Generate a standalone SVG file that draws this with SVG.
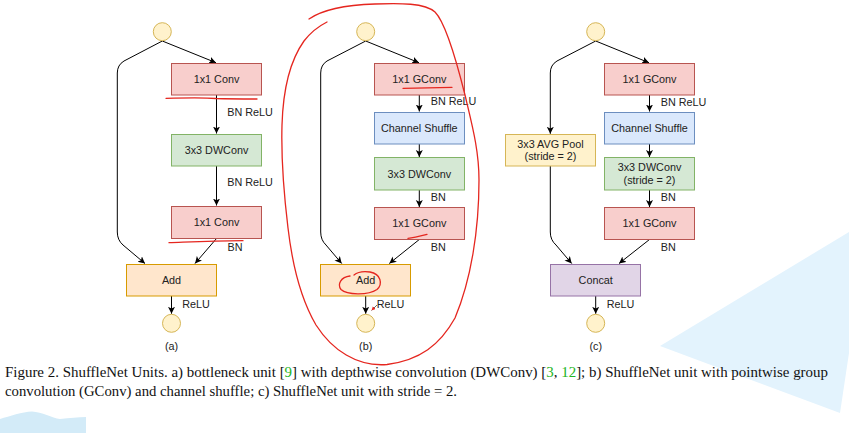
<svg xmlns="http://www.w3.org/2000/svg" width="849" height="433" viewBox="0 0 849 433">
  <style>
    .box { stroke-width: 1; }
    .pink { fill: #f8cecc; stroke: #b85450; }
    .green { fill: #d5e8d4; stroke: #82b366; }
    .blue { fill: #dae8fc; stroke: #6c8ebf; }
    .orange { fill: #ffe6cc; stroke: #d79b00; }
    .yellow { fill: #fff2cc; stroke: #d6b656; }
    .purple { fill: #e1d5e7; stroke: #9673a6; }
    .port { fill: #fff2cc; stroke: #d6b656; stroke-width: 1; }
    .t { font-family: "Liberation Sans", Arial, sans-serif; font-size: 10.8px; fill: #222; }
    .c { text-anchor: middle; }
    .edge { fill: none; stroke: #000; stroke-width: 1; marker-end: url(#arrow); }
    .ink { fill: none; stroke: #e5261f; stroke-width: 1.3; stroke-linecap: round; stroke-linejoin: round; }
    .cap { font-family: "Liberation Serif", "Times New Roman", serif; font-size: 15px; fill: #111; }
    .ref { fill: #22b422; }
  </style>
  <defs>
    <marker id="arrow" markerUnits="userSpaceOnUse" markerWidth="8" markerHeight="8" refX="7" refY="3.5" orient="auto">
      <path d="M0,0 L7,3.5 L0,7 L1.8,3.5 Z" fill="#000"/>
    </marker>
    <marker id="redhead" markerUnits="userSpaceOnUse" markerWidth="6" markerHeight="6" refX="4" refY="2" orient="auto">
      <path d="M0,0 L4,2 L0,4 Z" fill="#e5261f"/>
    </marker>
  </defs>

  <rect width="849" height="433" fill="#ffffff"/>

  <!-- light blue background shapes -->
  <polygon points="660,346 849,232 849,353 840,413" fill="#e3f3fd"/>
  <path d="M0,419 C10,416 22,412 32,411.5 C42,412 52,418 60,419 C70,418 78,417 86,417 L86,433 L0,433 Z" fill="#d3ebf8"/>

  <!-- connectors -->
  <g id="connectors">
    <!-- unit (a) -->
    <path class="edge" d="M162.3,41 L216,62.7"/>
    <path class="edge" d="M162.3,41 L124,61 Q117.3,65 117.3,73 L117.3,232 Q117.3,240 123,245 L145,263.5"/>
    <path class="edge" d="M216.5,95 L216.5,133.5"/>
    <path class="edge" d="M216.5,166 L216.5,205.5"/>
    <path class="edge" d="M216.5,238.5 L195,263.5"/>
    <path class="edge" d="M171.5,296 L171.5,313.8"/>
    <!-- unit (b) -->
    <path class="edge" d="M365.7,41 L419,62.7"/>
    <path class="edge" d="M365.7,41 L327,61 Q320.7,65 320.7,73 L320.7,232 Q320.7,240 326,245 L341.7,263.5"/>
    <path class="edge" d="M419.3,95 L419.3,111.5"/>
    <path class="edge" d="M419.3,144 L419.3,157"/>
    <path class="edge" d="M419.3,190 L419.3,207"/>
    <path class="edge" d="M419.3,239.5 L389.3,263.5"/>
    <path class="edge" d="M365.7,296 L365.7,313.8"/>
    <!-- unit (c) -->
    <path class="edge" d="M595.7,41 L649,62.7"/>
    <path class="edge" d="M595.7,41 L557,61 Q550.3,65 550.3,73 L550.3,133.8"/>
    <path class="edge" d="M550.3,166 L550.3,232 Q550.3,240 556,245 L571.7,263.5"/>
    <path class="edge" d="M649.5,95 L649.5,111.5"/>
    <path class="edge" d="M649.5,144 L649.5,157"/>
    <path class="edge" d="M649.5,190 L649.5,207"/>
    <path class="edge" d="M649.5,239.5 L619,263.5"/>
    <path class="edge" d="M595.7,296 L595.7,313.8"/>
  </g>

  <!-- unit (a) -->
  <g id="a-in"><circle class="port" cx="162.3" cy="31.7" r="9"/></g>
  <g id="a-conv1"><rect class="box pink" x="171.5" y="63.5" width="90" height="31.5"/><text class="t c" x="216.5" y="83">1x1 Conv</text></g>
  <g id="a-dwconv"><rect class="box green" x="171.5" y="134.5" width="90" height="31.5"/><text class="t c" x="216.5" y="154">3x3 DWConv</text></g>
  <g id="a-conv2"><rect class="box pink" x="171.5" y="206.5" width="90" height="32"/><text class="t c" x="216.5" y="226">1x1 Conv</text></g>
  <g id="a-add"><rect class="box orange" x="126.5" y="264.5" width="90" height="31.5"/><text class="t c" x="171.5" y="284">Add</text></g>
  <g id="a-out"><circle class="port" cx="171.5" cy="323.3" r="9"/></g>
  <g id="a-labels">
    <text class="t" x="227.3" y="115.5">BN ReLU</text>
    <text class="t" x="227.3" y="185.5">BN ReLU</text>
    <text class="t" x="227.6" y="251">BN</text>
    <text class="t" x="182.3" y="308">ReLU</text>
    <text class="t c" x="171.5" y="350">(a)</text>
  </g>

  <!-- unit (b) -->
  <g id="b-in"><circle class="port" cx="365.7" cy="31.7" r="9"/></g>
  <g id="b-gconv1"><rect class="box pink" x="374.5" y="63.5" width="90" height="31.5"/><text class="t c" x="419.3" y="83">1x1 GConv</text></g>
  <g id="b-shuffle"><rect class="box blue" x="374.5" y="112.5" width="90" height="31.5"/><text class="t c" x="419.3" y="132">Channel Shuffle</text></g>
  <g id="b-dwconv"><rect class="box green" x="374.5" y="157.5" width="90" height="32.5"/><text class="t c" x="419.3" y="177.5">3x3 DWConv</text></g>
  <g id="b-gconv2"><rect class="box pink" x="374.5" y="207.5" width="90" height="32"/><text class="t c" x="419.3" y="227">1x1 GConv</text></g>
  <g id="b-add"><rect class="box orange" x="320.5" y="264.5" width="90" height="31.5"/><text class="t c" x="365.7" y="284">Add</text></g>
  <g id="b-out"><circle class="port" cx="365.7" cy="323.3" r="9"/></g>
  <g id="b-labels">
    <text class="t" x="430.7" y="104.5">BN ReLU</text>
    <text class="t" x="430.7" y="201">BN</text>
    <text class="t" x="430.7" y="251">BN</text>
    <text class="t" x="376.7" y="307.5">ReLU</text>
    <text class="t c" x="365.7" y="350">(b)</text>
  </g>

  <!-- unit (c) -->
  <g id="c-in"><circle class="port" cx="595.7" cy="31.7" r="9"/></g>
  <g id="c-gconv1"><rect class="box pink" x="604.5" y="63.5" width="90" height="31.5"/><text class="t c" x="649.5" y="83">1x1 GConv</text></g>
  <g id="c-shuffle"><rect class="box blue" x="604.5" y="112.5" width="90" height="31.5"/><text class="t c" x="649.5" y="132">Channel Shuffle</text></g>
  <g id="c-dwconv"><rect class="box green" x="604.5" y="157.5" width="90" height="32.5"/><text class="t c" x="649.5" y="171.3">3x3 DWConv</text><text class="t c" x="649.5" y="183.8">(stride = 2)</text></g>
  <g id="c-gconv2"><rect class="box pink" x="604.5" y="207.5" width="90" height="32"/><text class="t c" x="649.5" y="227">1x1 GConv</text></g>
  <g id="c-pool"><rect class="box yellow" x="505.5" y="134.5" width="90" height="31.5"/><text class="t c" x="550.5" y="147.8">3x3 AVG Pool</text><text class="t c" x="550.5" y="160.3">(stride = 2)</text></g>
  <g id="c-concat"><rect class="box purple" x="550.5" y="264.5" width="90" height="31.5"/><text class="t c" x="595.7" y="284">Concat</text></g>
  <g id="c-out"><circle class="port" cx="595.7" cy="323.3" r="9"/></g>
  <g id="c-labels">
    <text class="t" x="660.7" y="105.5">BN ReLU</text>
    <text class="t" x="660.7" y="201">BN</text>
    <text class="t" x="660.7" y="251">BN</text>
    <text class="t" x="606.7" y="308">ReLU</text>
    <text class="t c" x="595.7" y="350">(c)</text>
  </g>

  <!-- red pen marks -->
  <g id="pen-marks">
    <path class="ink" d="M166,98.3 C185,97.8 205,97.5 216,98.5 C230,99 245,99 257,99"/>
    <path class="ink" d="M169,242.7 C190,242 210,241 243,240.7"/>
    <path class="ink" d="M403,88.3 C420,87.8 437,87.5 452,87.3"/>
    <path class="ink" d="M408,238.3 C412,237.8 418,236.5 427,234.3"/>
    <path class="ink" d="M350,276 C341,277 337,284 341,289.5 C347,295 368,295.5 377,289.5 C383,284 381,274 370,272 C363,271 357,272.5 354,275"/>
    <path class="ink" d="M309,19 C322,10 345,5 375,4 C400,3 425,3 435,12 C445,22 455,55 465,95 C472,125 479,150 479,180 C479,230 471,280 455,318 C440,345 420,360 387,364.5 C357,367 332,350 316,325 C299,296 292,262 288,228 C284,195 281,160 282,125 C283,92 289,62 304,41 C311,32 319,26 327,22"/>
    <path d="M377,305 L371.5,310.5" stroke="#444" stroke-width="0.8" fill="none" marker-end="url(#redhead)"/>
  </g>

  <!-- caption -->
  <g id="caption">
    <text class="cap" x="5" y="377" textLength="823" lengthAdjust="spacingAndGlyphs">Figure 2. ShuffleNet Units. a) bottleneck unit [<tspan class="ref">9</tspan>] with depthwise convolution (DWConv) [<tspan class="ref">3</tspan>, <tspan class="ref">12</tspan>]; b) ShuffleNet unit with pointwise group</text>
    <text class="cap" x="5" y="396" textLength="452" lengthAdjust="spacingAndGlyphs">convolution (GConv) and channel shuffle; c) ShuffleNet unit with stride = 2.</text>
  </g>
</svg>
